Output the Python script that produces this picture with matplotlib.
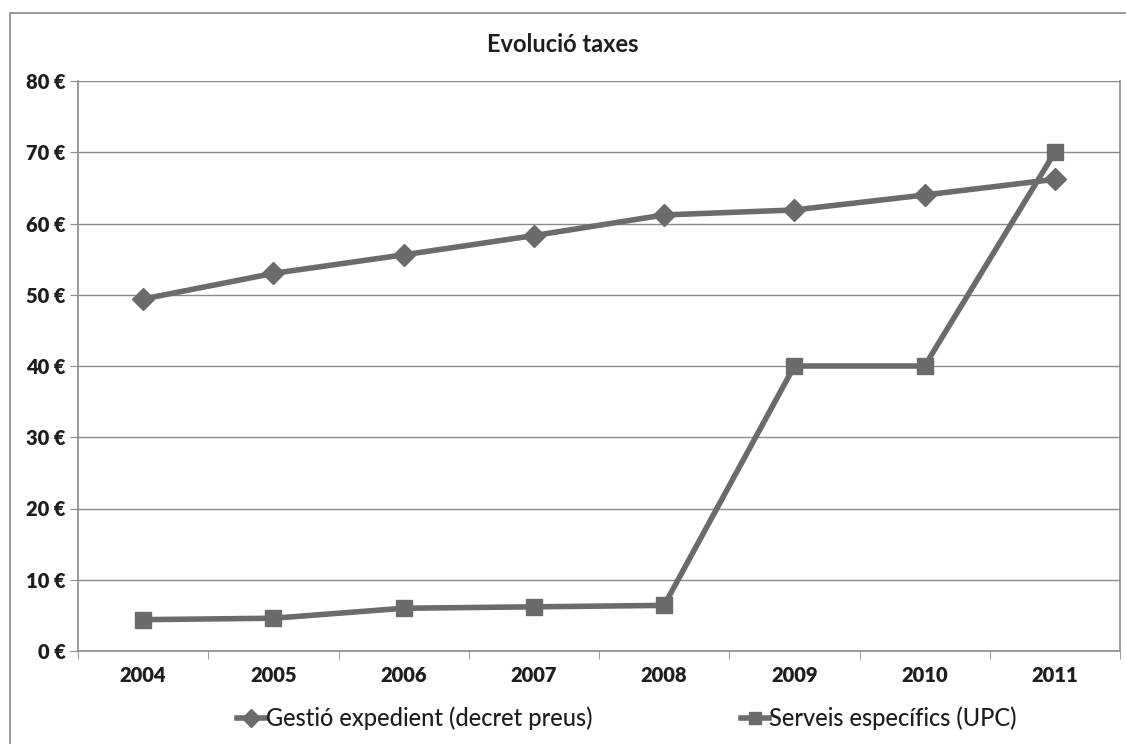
import matplotlib.pyplot as plt
from matplotlib.patches import Rectangle

years = ['2004', '2005', '2006', '2007', '2008', '2009', '2010', '2011']
gestio = [49.4, 53.0, 55.6, 58.3, 61.2, 61.9, 64.0, 66.2]
serveis = [4.4, 4.6, 6.0, 6.2, 6.4, 40.0, 40.0, 70.0]
yticks = [0, 10, 20, 30, 40, 50, 60, 70, 80]

plt.rcParams['font.family'] = ['Lato', 'DejaVu Sans']

W, H = 1126, 744
fig = plt.figure(figsize=(W / 100, H / 100), dpi=100)
ax = fig.add_axes([78 / W, 1 - 651 / H, (1120 - 78) / W, (651 - 81) / H])

line_col = '#6b6b6b'
grid_col = '#8a8a8a'
txt_col = '#1e1e1e'
x = list(range(len(years)))

ax.plot(x, gestio, color=line_col, lw=4, marker='D', ms=11,
        label='Gestió expedient (decret preus)', zorder=3)
ax.plot(x, serveis, color=line_col, lw=4, marker='s', ms=11,
        label='Serveis específics (UPC)', zorder=3)

ax.set_xlim(-0.5, len(years) - 0.5)
ax.set_ylim(0, 80)
ax.set_yticks(yticks)
ax.set_yticklabels([f'{v} €' for v in yticks], fontsize=14.5, fontweight='heavy', color=txt_col)
ax.set_xticks(x)
ax.set_xticklabels(years, fontsize=14.5, fontweight='heavy', color=txt_col)
ax.set_xticks([i - 0.5 for i in range(len(years) + 1)], minor=True)
ax.tick_params(axis='x', which='major', length=0, pad=11)
ax.tick_params(axis='x', which='minor', length=6, color=grid_col, direction='out')
ax.tick_params(axis='y', length=6, color=grid_col, direction='out', pad=3)

ax.grid(axis='y', color=grid_col, lw=1)
ax.set_axisbelow(True)
for side in ['left', 'bottom', 'right']:
    ax.spines[side].set_color(grid_col)
    ax.spines[side].set_linewidth(1.2)
ax.spines['top'].set_visible(False)

fig.text(563 / W, 1 - 45 / H, 'Evolució taxes', ha='center', va='center',
         fontsize=17, fontweight='bold', color=txt_col)

leg = fig.legend(loc='center', bbox_to_anchor=(627 / W, 1 - 718 / H), ncol=2,
                 frameon=False, handlelength=1.2,
                 handletextpad=0.0, columnspacing=6.3, markerscale=0.85,
                 prop={'weight': 'medium', 'size': 17})
for t in leg.get_texts():
    t.set_color(txt_col)

fig.patches.append(Rectangle((10 / W, -0.1), 1.2, 1 - 13 / H + 0.1,
                             transform=fig.transFigure, fill=False,
                             edgecolor='#8a8a8a', lw=1.2, zorder=0))

fig.savefig('out.png', dpi=100)
